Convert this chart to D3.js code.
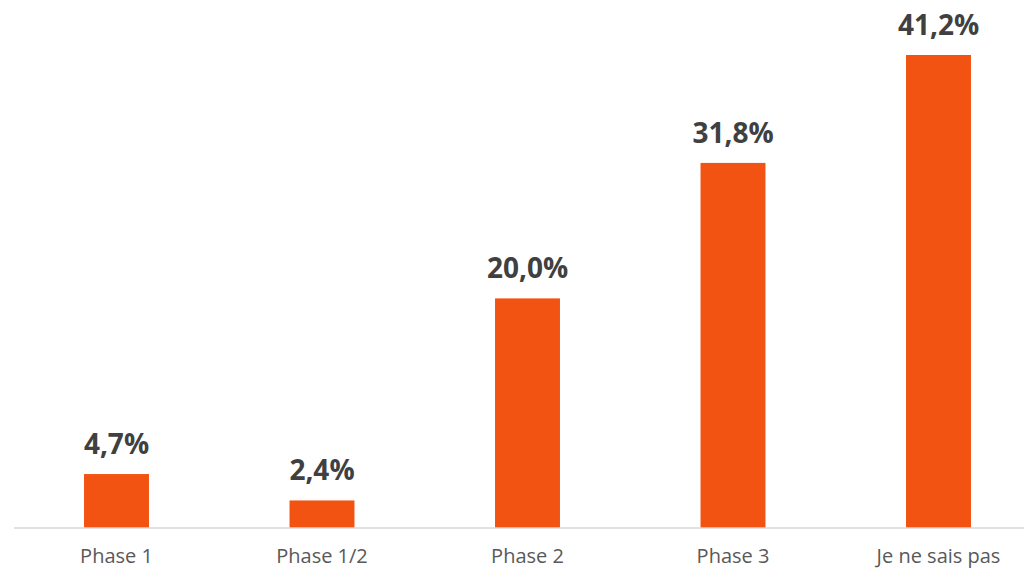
<!DOCTYPE html>
<html>
<head>
<meta charset="utf-8">
<script src="https://cdn.jsdelivr.net/npm/d3@7"></script>
<style>
  html, body { margin: 0; padding: 0; background: #fff; }
  svg { display: block; }
</style>
</head>
<body>
<svg id="chart" width="1024" height="570"></svg>
<script>
// Répartition des réponses par phase
const categories = ["Phase 1", "Phase 1/2", "Phase 2", "Phase 3", "Je ne sais pas"];
const values = [4.7, 2.4, 20.0, 31.8, 41.2];

const width = 1024, height = 570;
const plotLeft = 14, baseline = 528;
const step = 205.5;

const svg = d3.select("#chart");

const x = d3.scaleBand()
  .domain(categories)
  .range([plotLeft - 0.25, plotLeft - 0.25 + step * categories.length])
  .paddingInner(0.684)
  .paddingOuter(0.342);

const y = d3.scaleLinear()
  .domain([0, 41.2])
  .range([baseline, 55]);

const fmt = v => d3.format(".1f")(v).replace(".", ",") + "%";

// bars
svg.append("g")
  .selectAll("rect")
  .data(values)
  .join("rect")
  .attr("x", (d, i) => x(categories[i]))
  .attr("y", d => y(d))
  .attr("width", x.bandwidth())
  .attr("height", d => y(0) - y(d))
  .attr("fill", "#F25313");

// category axis
const axis = svg.append("g")
  .attr("transform", `translate(0,${baseline})`)
  .call(d3.axisBottom(x).tickSize(0).tickPadding(21));
axis.select(".domain").remove();
axis.append("line")
  .attr("x1", plotLeft).attr("x2", width)
  .attr("stroke", "#D9D9D9").attr("stroke-width", 1.5);
axis.selectAll("text")
  .attr("fill", "#595959")
  .style("font-family", "'Open Sans', sans-serif")
  .style("font-size", "20px");

// value labels
svg.append("g")
  .selectAll("text")
  .data(values)
  .join("text")
  .attr("x", (d, i) => x(categories[i]) + x.bandwidth() / 2)
  .attr("y", d => y(d) - 20)
  .attr("text-anchor", "middle")
  .attr("fill", "#404040")
  .style("font-family", "'Open Sans', sans-serif")
  .style("font-weight", "bold")
  .style("font-size", "28px")
  .text(d => fmt(d));
</script>
</body>
</html>
